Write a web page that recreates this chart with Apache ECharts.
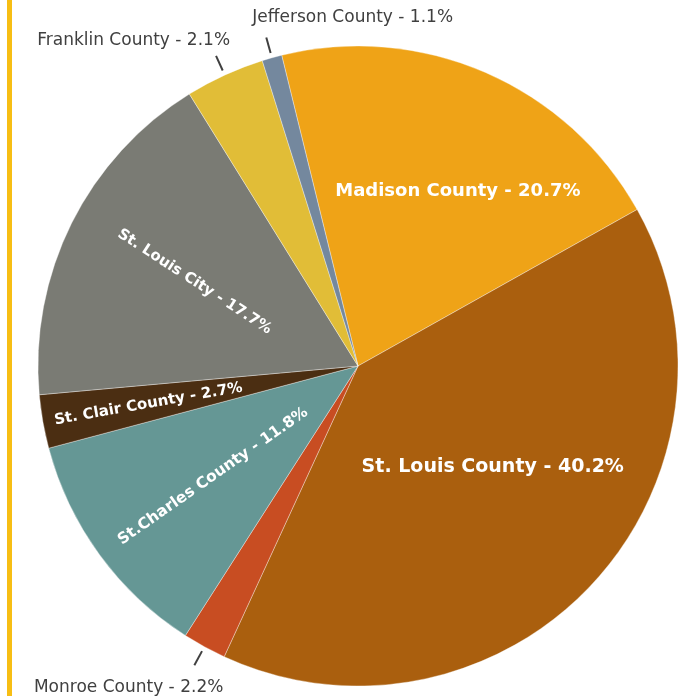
<!DOCTYPE html>
<html><head><meta charset="utf-8">
<script src="https://cdn.jsdelivr.net/npm/echarts@6/dist/echarts.min.js"></script>
<style>html,body{margin:0;padding:0;background:#fff}#c{width:680px;height:696px}</style>
</head><body><div id="c"></div>
<script>
// ---- data ----
const categories = ['Madison County','St. Louis County','Monroe County','St.Charles County','St. Clair County','St. Louis City','Franklin County','Jefferson County'];
const values = [20.7, 40.0, 2.2, 11.8, 2.7, 17.6, 4.0, 1.0];
const percentLabels = ['20.7%','40.2%','2.2%','11.8%','2.7%','17.7%','2.1%','1.1%'];

// ---- styles ----
const colors = ['#EFA317','#AA5F0E','#C84D22','#659795','#4B2E12','#7A7B74','#E1BD37','#74889E'];
const insideAdj = {
  0: {fontSize:18, rotate:0, dx:35, dy:-25},
  1: {fontSize:19, rotate:0, dx:15, dy:-10},
  3: {fontSize:15.5, rotate:35, dx:-19, dy:4},
  4: {fontSize:15, rotate:10, dx:-50, dy:1},
  5: {fontSize:15, rotate:-33, dx:-21, dy:0}
};
const outsideAdj = {
  2: {tx:29, ty:22, align:'right', gap:5},
  6: {tx:14, ty:-15, align:'right', gap:5},
  7: {tx:-14, ty:-20, align:'left', gap:5}
};
const FONT = 'DejaVu Sans';

const data = categories.map((name, i) => {
  const ins = insideAdj[i];
  const item = {name: name, value: values[i], itemStyle: {color: colors[i]}};
  if (ins) {
    item.label = {position: 'inside', rotate: ins.rotate, fontSize: ins.fontSize, fontWeight: 'bold', color: '#ffffff'};
    item.labelLine = {show: false};
  } else {
    item.label = {position: 'outside', fontSize: 17, color: '#404040'};
    item.labelLine = {show: true, length: 21, length2: 0, lineStyle: {color: '#404040', width: 2}};
  }
  return item;
});

const chart = echarts.init(document.getElementById('c'), null, {renderer: 'canvas'});
chart.setOption({
  animation: false,
  backgroundColor: '#ffffff',
  graphic: [{type: 'rect', shape: {x: 7, y: 0, width: 5, height: 696}, style: {fill: '#F7BE14'}}],
  series: [{
    type: 'pie',
    center: [358, 366],
    radius: 320,
    startAngle: 103.8,
    clockwise: true,
    avoidLabelOverlap: false,
    emphasis: {disabled: true},
    itemStyle: {borderColor: 'rgba(255,255,255,0.35)', borderWidth: 1},
    label: {
      fontFamily: FONT,
      formatter: p => categories[p.dataIndex] + ' - ' + percentLabels[p.dataIndex]
    },
    labelLayout: function (p) {
      const i = p.dataIndex;
      const ins = insideAdj[i];
      if (ins) return {dx: ins.dx, dy: ins.dy};
      const o = outsideAdj[i];
      const pts = p.labelLinePoints;
      if (!o || !pts) return {};
      const a = pts[0], b = pts[1];
      const vx = b[0] - a[0], vy = b[1] - a[1];
      const len = Math.hypot(vx, vy) || 1;
      const s = [a[0] + vx / len * o.gap, a[1] + vy / len * o.gap];
      return {x: b[0] + o.tx, y: b[1] + o.ty, align: o.align, verticalAlign: 'middle', labelLinePoints: [s, b, b]};
    },
    data: data
  }]
});
</script>
</body></html>
